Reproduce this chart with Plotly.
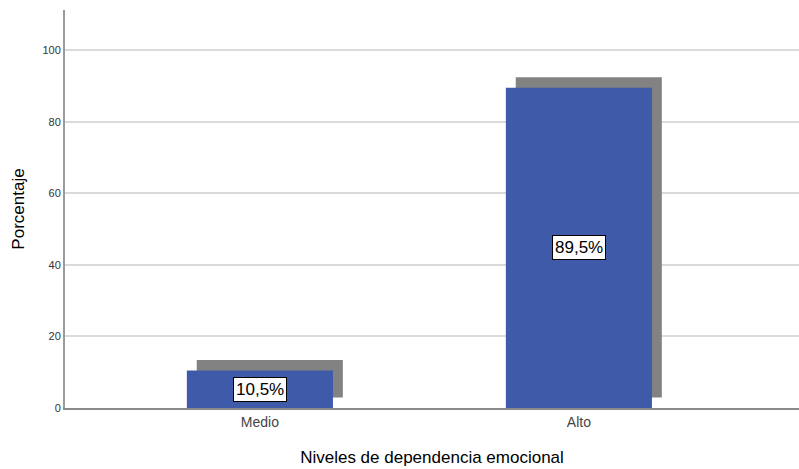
import plotly.graph_objects as go

# data
categories = ["Medio", "Alto"]
percentages = [10.5, 89.5]
y_ticks = [0, 20, 40, 60, 80, 100]

bar_color = "#3E5AA8"
shadow_color = "#828282"
bar_width = 0.458
shift_x = 0.031   # shadow offset to the right (category units)
shift_y = 2.94    # shadow offset upwards (axis units)

fig = go.Figure()

# shadow bars behind
fig.add_trace(go.Bar(
    x=categories,
    y=percentages,
    base=shift_y,
    width=bar_width,
    offset=-bar_width / 2 + shift_x,
    marker=dict(color=shadow_color, line=dict(width=0)),
    hoverinfo="skip",
    showlegend=False,
))

# main bars
fig.add_trace(go.Bar(
    x=categories,
    y=percentages,
    width=bar_width,
    offset=-bar_width / 2,
    marker=dict(color=bar_color, line=dict(width=0)),
    showlegend=False,
))

# boxed percentage labels in the middle of each bar
for cat, val in zip(categories, percentages):
    fig.add_annotation(
        x=cat, y=val / 2,
        text=f"{val:.1f}%".replace(".", ","),
        showarrow=False,
        font=dict(family="Liberation Sans, Arial", size=17, color="black"),
        bgcolor="white",
        bordercolor="black",
        borderwidth=1,
        borderpad=2,
    )

fig.update_layout(
    width=799,
    height=469,
    margin=dict(l=65, r=0, t=10, b=61),
    barmode="overlay",
    plot_bgcolor="white",
    paper_bgcolor="white",
    font=dict(family="Liberation Sans, Arial", color="#333333"),
    xaxis=dict(
        type="category",
        range=[-0.611, 1.69],
        showline=True,
        linecolor="#8a8a8a",
        linewidth=2,
        showgrid=False,
        ticks="",
        tickfont=dict(size=14, color="#444444"),
        title=dict(text="Niveles de dependencia emocional",
                   font=dict(size=17, color="black"), standoff=22),
    ),
    yaxis=dict(
        range=[0, 111.2],
        tickvals=y_ticks,
        showline=True,
        linecolor="#9a9a9a",
        linewidth=2,
        showgrid=True,
        gridcolor="#dadada",
        gridwidth=1.5,
        zeroline=False,
        ticks="",
        tickfont=dict(size=11, color="#333333"),
        title=dict(text="Porcentaje",
                   font=dict(size=17, color="black"), standoff=13),
    ),
)

# drop the default page margin so the figure fills the window exactly
fig.write_html(
    "out.html",
    config={"displayModeBar": False},
    post_script="document.body.style.margin='0';document.body.style.overflow='hidden';",
)
